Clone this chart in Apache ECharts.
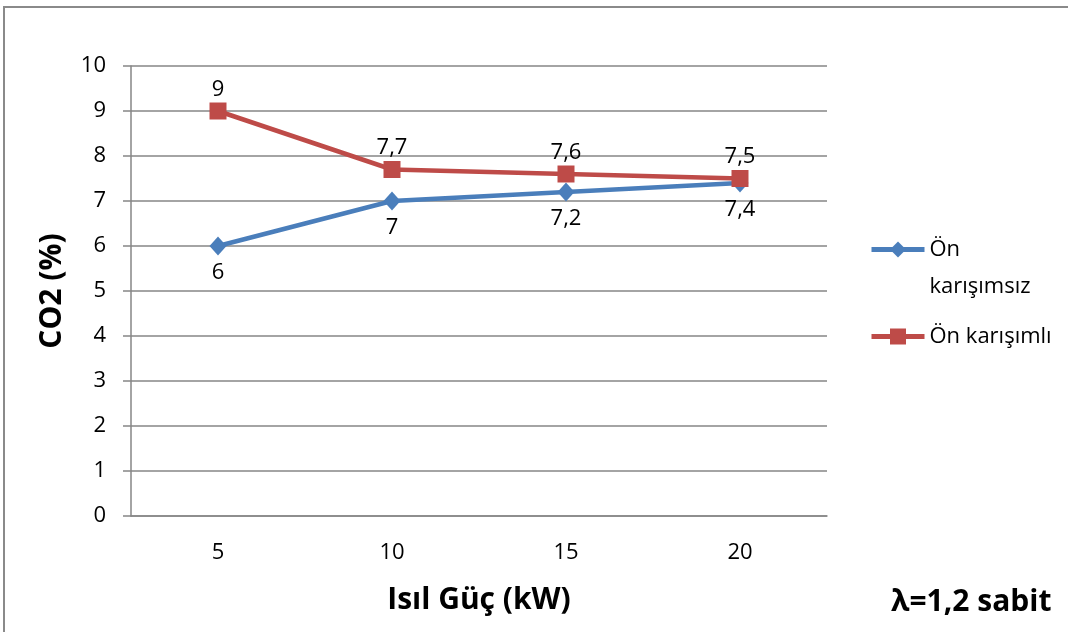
<!DOCTYPE html>
<html>
<head>
<meta charset="utf-8">
<script src="https://cdn.jsdelivr.net/npm/echarts@6/dist/echarts.min.js"></script>
<style>
html,body{margin:0;padding:0;background:#fff;}
#c{width:1068px;height:632px;}
</style>
</head>
<body>
<div id="c"></div>
<script>
var categories = ['5', '10', '15', '20'];
var onKarisimsiz = [6, 7, 7.2, 7.4];
var onKarisimli = [9, 7.7, 7.6, 7.5];
var seriesNames = ['Ön karışımsız', 'Ön karışımlı'];
var yTicks = [0, 1, 2, 3, 4, 5, 6, 7, 8, 9, 10];

var FONT = '"Open Sans", "Noto Sans", "Liberation Sans", sans-serif';
var fmtLabel = function (p) { return String(p.value).replace('.', ','); };

var chart = echarts.init(document.getElementById('c'), null, {renderer: 'canvas'});
chart.setOption({
  backgroundColor: '#ffffff',
  animation: false,
  textStyle: {fontFamily: FONT},
  grid: {left: 131, right: 241, top: 66, bottom: 116, containLabel: false},
  xAxis: {
    type: 'category',
    data: categories,
    boundaryGap: true,
    name: 'Isıl Güç (kW)',
    nameLocation: 'middle',
    nameGap: 69,
    nameTextStyle: {fontSize: 30, fontWeight: 'bold', color: '#000', fontFamily: FONT},
    axisLine: {lineStyle: {color: '#868686', width: 1.5}},
    axisTick: {show: false},
    axisLabel: {fontSize: 22, color: '#000', margin: 26, fontFamily: FONT}
  },
  yAxis: {
    type: 'value',
    min: yTicks[0],
    max: yTicks[yTicks.length - 1],
    interval: 1,
    name: 'CO2 (%)',
    nameLocation: 'middle',
    nameGap: 64,
    nameRotate: 90,
    nameTextStyle: {fontSize: 30, fontWeight: 'bold', color: '#000', fontFamily: FONT},
    axisLine: {show: true, lineStyle: {color: '#868686', width: 1.5}},
    axisTick: {show: true, length: 8, lineStyle: {color: '#868686', width: 1.5}},
    axisLabel: {fontSize: 22, color: '#000', margin: 25, fontFamily: FONT},
    splitLine: {lineStyle: {color: '#868686', width: 1.5}}
  },
  legend: {
    orient: 'vertical',
    left: 864,
    top: 189,
    itemWidth: 53,
    itemHeight: 20,
    itemGap: 13,
    lineStyle: {width: 5},
    data: seriesNames,
    formatter: function (name) {
      return name === seriesNames[0] ? ' \nÖn\nkarışımsız' : name;
    },
    textStyle: {fontSize: 22, color: '#000', fontFamily: FONT, lineHeight: 37},
    itemStyle: {borderWidth: 0}
  },
  series: [
    {
      name: seriesNames[0],
      type: 'line',
      data: onKarisimsiz,
      symbol: 'diamond',
      symbolSize: [17, 19],
      color: '#4A7EBB',
      lineStyle: {width: 4.5, color: '#4A7EBB'},
      itemStyle: {color: '#4A7EBB'},
      label: {show: true, position: 'bottom', distance: 6, fontSize: 22, color: '#000', fontFamily: FONT, formatter: fmtLabel},
      z: 2
    },
    {
      name: seriesNames[1],
      type: 'line',
      data: onKarisimli,
      symbol: 'rect',
      symbolSize: 17,
      color: '#BE4B48',
      lineStyle: {width: 4.5, color: '#BE4B48'},
      itemStyle: {color: '#BE4B48'},
      label: {show: true, position: 'top', distance: 2, fontSize: 22, color: '#000', fontFamily: FONT, formatter: fmtLabel},
      z: 3
    }
  ],
  graphic: [
    {
      type: 'rect',
      shape: {x: 4, y: 7, width: 1200, height: 800},
      style: {fill: null, stroke: '#8a8a8a', lineWidth: 2},
      silent: true
    },
    {
      type: 'text',
      left: 891,
      top: 587,
      style: {text: 'λ=1,2 sabit', font: 'bold 30px ' + FONT, fill: '#000'}
    }
  ]
});
</script>
</body>
</html>
